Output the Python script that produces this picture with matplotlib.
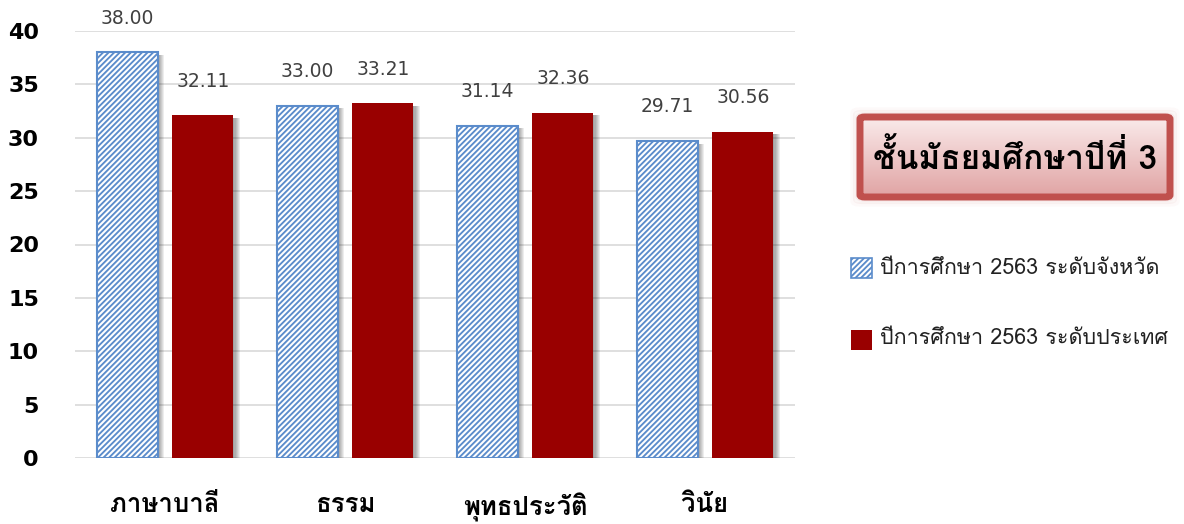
import matplotlib
matplotlib.use("Agg")
import matplotlib.pyplot as plt
from matplotlib import font_manager
from matplotlib.patches import Rectangle, FancyBboxPatch
import numpy as np

categories = ["ภาษาบาลี", "ธรรม", "พุทธประวัติ", "วินัย"]
province = [38.00, 33.00, 31.14, 29.71]
national = [32.11, 33.21, 32.36, 30.56]
series_names = ["ปีการศึกษา 2563 ระดับจังหวัด", "ปีการศึกษา 2563 ระดับประเทศ"]
title_text = "ชั้นมัธยมศึกษาปีที่ 3"
yticks = [0, 5, 10, 15, 20, 25, 30, 35, 40]

# find a font with Thai glyphs
thai_fonts = []
try:
    from matplotlib.ft2font import FT2Font
    seen = set()
    for f in font_manager.fontManager.ttflist:
        if f.name in seen:
            continue
        try:
            cm = FT2Font(f.fname).get_charmap()
            if 0x0E01 in cm and 0x0E35 in cm:
                thai_fonts.append(f.name)
                seen.add(f.name)
        except Exception:
            pass
except Exception:
    pass
fam = thai_fonts[:1] + ["DejaVu Sans"]
plt.rcParams['font.family'] = fam
plt.rcParams['hatch.linewidth'] = 1.35
num_fam = ["DejaVu Sans"]

blue = "#5B8CCB"
red = "#990000"

fig = plt.figure(figsize=(11.84, 5.24), dpi=100)
ax = fig.add_axes([75/1184, 66/524, 720/1184, 427/524])
x = np.arange(len(categories))
w = 0.34
off = 0.21

# shadows
for k in range(6):
    sdx = 0.006 + k*0.006
    ax.bar(x - off + sdx, province, w, bottom=-0.25, color="black", alpha=0.07, lw=0, zorder=1)
    ax.bar(x + off + sdx, national, w, bottom=-0.25, color="black", alpha=0.07, lw=0, zorder=1)

plt.rcParams['hatch.color'] = blue
ax.bar(x - off, province, w, facecolor="white", edgecolor=blue, hatch="//////", lw=1.5, zorder=3)
ax.bar(x + off, national, w, color=red, lw=0, zorder=3)

for xi, v in zip(x - off, province):
    ax.text(xi, v + 2.3, f"{v:.2f}", ha="center", va="bottom", fontsize=13.5,
            color="#404040", family=num_fam)
for xi, v in zip(x + off, national):
    ax.text(xi, v + 2.3, f"{v:.2f}", ha="center", va="bottom", fontsize=13.5,
            color="#404040", family=num_fam)

ax.set_xlim(-0.5, len(categories) - 0.5)
ax.set_ylim(0, 40)
ax.set_yticks(yticks)
ax.set_yticklabels([str(t) for t in yticks], fontsize=16, fontweight="bold", family=num_fam)
ax.set_xticks(x)
ax.set_xticklabels(categories, fontsize=18.5, fontweight="bold")
ax.tick_params(axis="both", length=0)
ax.tick_params(axis="x", pad=25)
ax.tick_params(axis="y", pad=26)
for s in ax.spines.values():
    s.set_visible(False)
ax.grid(axis="y", color="#D9D9D9", lw=1.2, zorder=0)
ax.set_axisbelow(True)

# title box with gradient
bx0, by0, bw, bh = 860/1184, 1 - 197/524, 310/1184, 80/524
grad = np.linspace(0, 1, 100).reshape(-1, 1)
c_top = np.array([0.98, 0.92, 0.92])
c_bot = np.array([0.88, 0.64, 0.64])
img = c_top[None, None, :] * (1 - grad[:, :, None]) + c_bot[None, None, :] * grad[:, :, None]
iax = fig.add_axes([bx0, by0, bw, bh])
iax.imshow(img, aspect="auto", extent=[0, 1, 0, 1])
iax.set_axis_off()
# glow
for k, a in enumerate([0.08, 0.05, 0.03]):
    pad = (k + 1) * 2.5
    fig.patches.append(FancyBboxPatch((bx0 - pad/1184, by0 - pad/524), bw + 2*pad/1184, bh + 2*pad/524,
                                      boxstyle="round,pad=0,rounding_size=0.006",
                                      transform=fig.transFigure, facecolor="none",
                                      edgecolor="#C0504D", alpha=a, lw=3, zorder=0))
fig.patches.append(FancyBboxPatch((bx0, by0), bw, bh, boxstyle="round,pad=0,rounding_size=0.004",
                                  transform=fig.transFigure, facecolor="none",
                                  edgecolor="#C0504D", lw=5, zorder=5))
fig.text(bx0 + bw/2, by0 + bh/2, title_text, ha="center", va="center",
         fontsize=24, fontweight="bold", color="black", zorder=6)

# legend
fig.patches.append(Rectangle((851/1184, 1 - 278/524), 21/1184, 20/524, transform=fig.transFigure,
                             facecolor="white", edgecolor=blue, hatch="//////", lw=1.2))
fig.patches.append(Rectangle((851/1184, 1 - 350/524), 21/1184, 20/524, transform=fig.transFigure,
                             facecolor=red, edgecolor="none"))
fig.text(880/1184, 1 - 268/524, series_names[0], ha="left", va="center", fontsize=15.5, color="#222222")
fig.text(880/1184, 1 - 339/524, series_names[1], ha="left", va="center", fontsize=15.5, color="#222222")

fig.savefig("out.png", dpi=100)
